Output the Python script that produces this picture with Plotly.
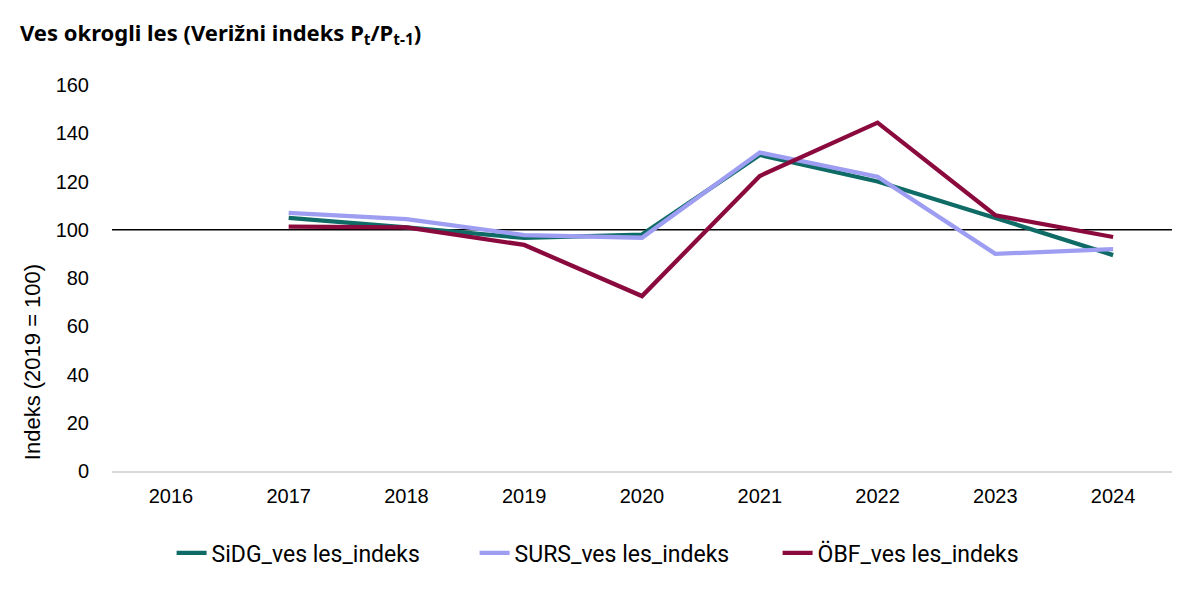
import plotly.graph_objects as go

years = ["2016", "2017", "2018", "2019", "2020", "2021", "2022", "2023", "2024"]
sidg = [None, 104.9, 101.0, 96.6, 98.0, 131.0, 120.0, 104.9, 89.5]
surs = [None, 107.0, 104.4, 97.8, 96.7, 132.0, 122.0, 90.0, 92.0]
obf = [None, 101.3, 101.0, 93.7, 72.5, 122.3, 144.4, 106.0, 97.0]

names = ["SiDG_ves les_indeks", "SURS_ves les_indeks", "ÖBF_ves les_indeks"]
colors = ["#0f6b66", "#9d9df2", "#8b0a3d"]
series = [sidg, surs, obf]

fig = go.Figure()
for name, vals, col in zip(names, series, colors):
    fig.add_trace(go.Scatter(x=years, y=vals, name=name, mode="lines",
                             line=dict(color=col, width=4.3)))

fig.add_shape(type="line", xref="paper", yref="y", x0=0, x1=1, y0=100, y1=100,
              line=dict(color="black", width=1.5), layer="below")

fig.add_annotation(text="Indeks (2019 = 100)", textangle=-90, xref="paper", yref="paper",
                   x=0, xshift=-80, xanchor="center", y=0.282, yanchor="middle",
                   showarrow=False,
                   font=dict(size=22, family="Liberation Sans, Arial, sans-serif", color="black"))

fig.update_layout(
    width=1200, height=593,
    paper_bgcolor="white", plot_bgcolor="white",
    margin=dict(l=104, r=36, t=77, b=130),
    font=dict(family="Noto Sans, Roboto, sans-serif", color="black"),
    title=dict(text="<b>Ves okrogli les (Verižni indeks P<sub>t</sub>/P<sub>t-1</sub>)</b>",
               x=0.01, xanchor="left", y=0.958, yanchor="middle",
               font=dict(size=22, family="Noto Sans, sans-serif", color="black")),
    xaxis=dict(type="category", categoryorder="array", categoryarray=years,
               range=[-0.5, 8.5], showgrid=False, showline=True,
               linecolor="#d9d9d9", linewidth=1.5, ticks="", ticklabelstandoff=6,
               tickfont=dict(size=20, family="Liberation Sans, Arial, sans-serif")),
    yaxis=dict(range=[0, 160], dtick=20, showgrid=False, zeroline=False,
               showline=False, ticks="", ticklabelstandoff=22,
               tickfont=dict(size=20, family="Liberation Sans, Arial, sans-serif")),
    legend=dict(orientation="h", x=0.485, xanchor="center", y=-0.212, yanchor="middle",
                font=dict(size=23, family="Roboto, sans-serif"),
                entrywidth=258, entrywidthmode="pixels", itemwidth=30),
    showlegend=True,
)

fig.write_html("out.html")
